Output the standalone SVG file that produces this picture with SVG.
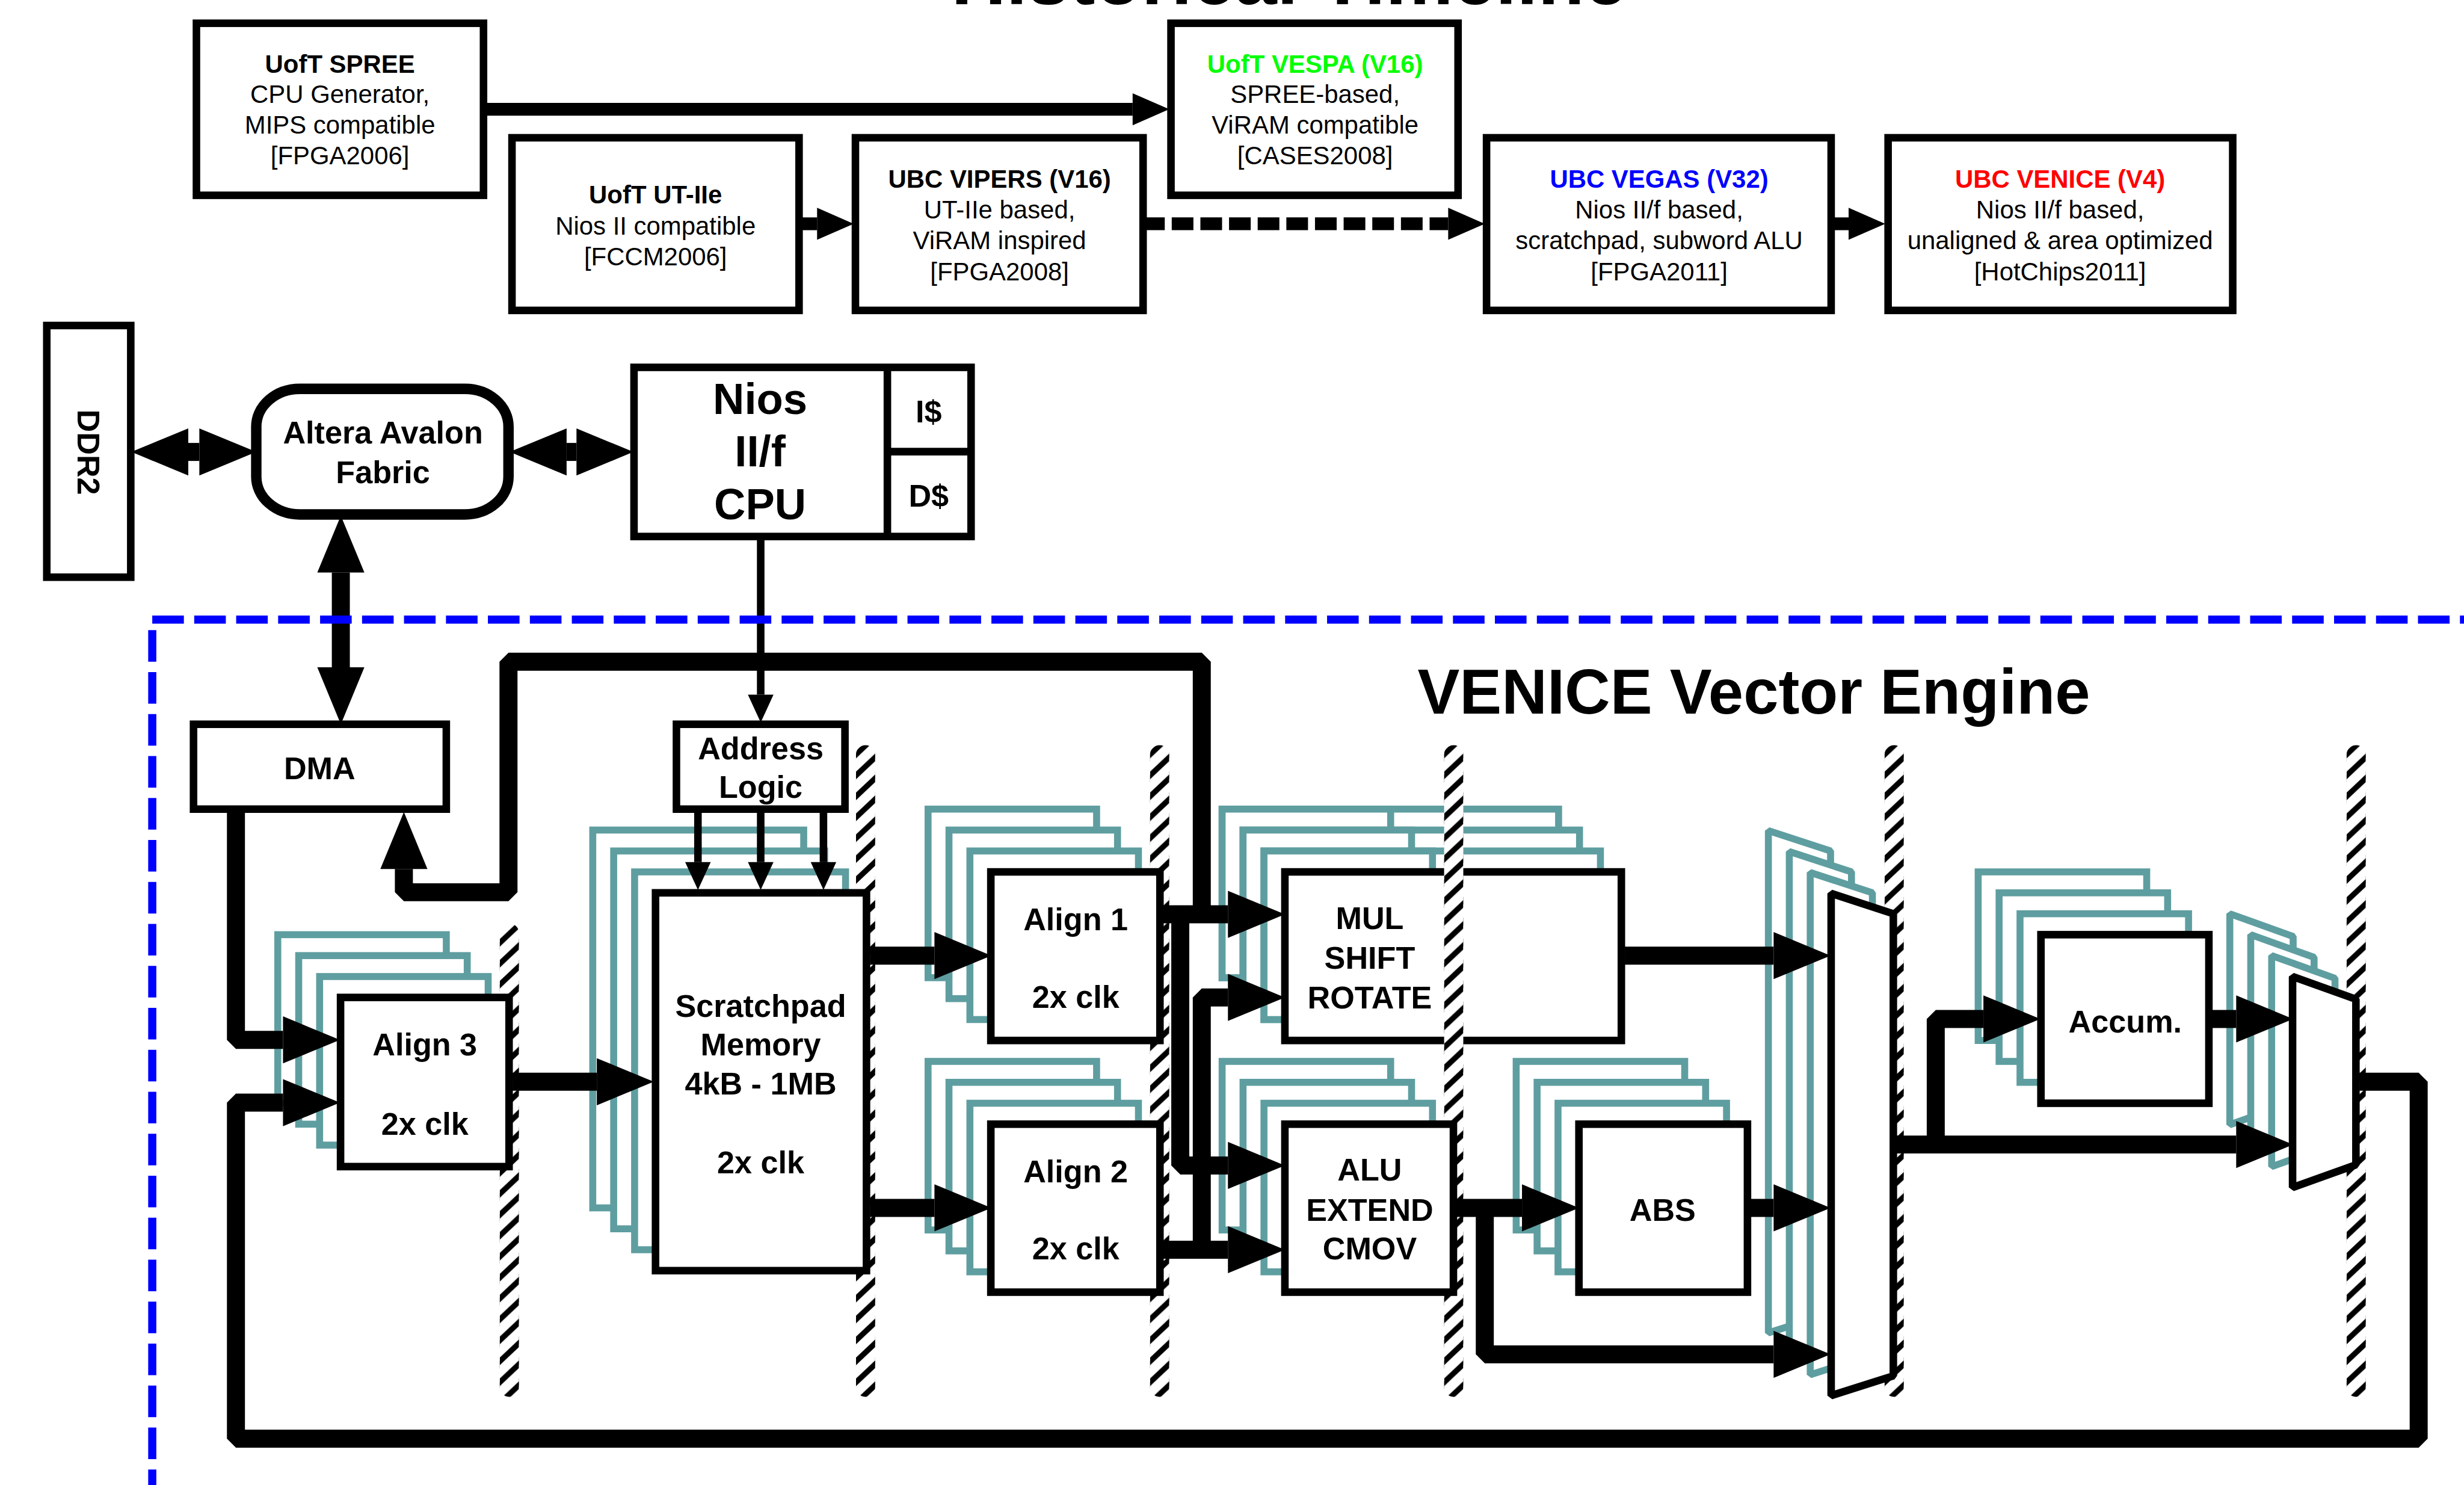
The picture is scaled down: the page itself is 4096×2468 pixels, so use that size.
<svg xmlns="http://www.w3.org/2000/svg" xmlns:xlink="http://www.w3.org/1999/xlink" width="4096" height="2468" viewBox="0 0 4096 2468">
<style>
text{font-family:"Liberation Sans",Arial,Helvetica,sans-serif;text-anchor:middle;fill:#000}
.b{font-weight:bold}
.s43{font-size:43.4px}
.s54{font-size:54px;font-weight:bold}
.s75{font-size:75px;font-weight:bold}
.box{fill:#fff;stroke:#000;stroke-width:13}
.mux{fill:#fff;stroke:#000;stroke-width:13;stroke-linejoin:bevel}
.st{fill:#fff;stroke:#5f9ea0;stroke-width:12}
.stm{fill:#fff;stroke:#5f9ea0;stroke-width:12;stroke-linejoin:bevel}
.w{fill:none;stroke:#000;stroke-width:31;stroke-linejoin:bevel}
.th{fill:none;stroke:#000;stroke-width:22}
.thin{fill:none;stroke:#000;stroke-width:13}
.big{marker-end:url(#hb)}
.top{marker-end:url(#ht)}
.tn{marker-end:url(#hn)}
.dbl{marker-start:url(#hb);marker-end:url(#hb)}
.dash{fill:none;stroke:#00f;stroke-width:14;stroke-dasharray:54.4 17.8}
</style>
<defs>
<marker id="hb" markerUnits="userSpaceOnUse" markerWidth="99" markerHeight="81" refX="0" refY="40.5" orient="auto-start-reverse" overflow="visible"><path d="M0,0L98,40.5L0,81Z"/></marker>
<marker id="ht" markerUnits="userSpaceOnUse" markerWidth="64" markerHeight="56" refX="0" refY="28" orient="auto" overflow="visible"><path d="M0,0.5L63,28L0,55.5Z"/></marker>
<marker id="hn" markerUnits="userSpaceOnUse" markerWidth="48" markerHeight="44" refX="0" refY="22" orient="auto" overflow="visible"><path d="M0,0L48,22L0,44Z"/></marker>
<pattern id="hp" patternUnits="userSpaceOnUse" width="33" height="36"><polygon points="0,9.5 0,22.5 33,-8.5 33,-21.5"/><polygon points="0,45.5 0,58.5 33,27.5 33,14.5"/></pattern>
<g id="bar"><rect width="33" height="1121" rx="16" fill="#fff"/><rect width="33" height="1121" rx="16" fill="url(#hp)"/></g>
<g id="bar1"><rect y="307" width="33" height="814" rx="16" fill="#fff"/><rect y="307" width="33" height="814" rx="16" fill="url(#hp)"/></g>
<g id="stack"><rect class="st" x="-108" y="-108" width="290" height="290"/><rect class="st" x="-72" y="-72" width="290" height="290"/><rect class="st" x="-36" y="-36" width="290" height="290"/></g>
<polygon id="muxB" points="0,0 107,35 107,830 0,864"/>
<polygon id="muxS" points="0,0 109,39 109,324 0,363"/>
</defs>
<g transform="scale(0.96604)">
<rect x="0" y="0" width="4240" height="2555" fill="#fff"/>
<text id="title" class="b" x="2218" y="7" font-size="131">Historical Timeline</text>

<g id="uoft-spree"><rect class="box" x="338" y="40" width="494" height="296"/>
<text class="s43 b" x="585" y="125">UofT SPREE</text><text class="s43" x="585" y="177">CPU Generator,</text><text class="s43" x="585" y="230">MIPS compatible</text><text class="s43" x="585" y="283">[FPGA2006]</text></g>
<g id="uoft-vespa"><rect class="box" x="2015" y="40" width="494" height="296"/>
<text class="s43 b" x="2263" y="125" style="fill:#0f0">UofT VESPA (V16)</text><text class="s43" x="2263" y="177">SPREE-based,</text><text class="s43" x="2263" y="230">ViRAM compatible</text><text class="s43" x="2263" y="283">[CASES2008]</text></g>
<g id="uoft-ut2e"><rect class="box" x="881" y="237" width="494" height="297"/>
<text class="s43 b" x="1128" y="350">UofT UT-IIe</text><text class="s43" x="1128" y="404">Nios II compatible</text><text class="s43" x="1128" y="456">[FCCM2006]</text></g>
<g id="ubc-vipers"><rect class="box" x="1472" y="237" width="495" height="297"/>
<text class="s43 b" x="1720" y="323">UBC VIPERS (V16)</text><text class="s43" x="1720" y="376">UT-IIe based,</text><text class="s43" x="1720" y="429">ViRAM inspired</text><text class="s43" x="1720" y="482">[FPGA2008]</text></g>
<g id="ubc-vegas"><rect class="box" x="2558" y="237" width="593" height="297"/>
<text class="s43 b" x="2855" y="323" style="fill:#00f">UBC VEGAS (V32)</text><text class="s43" x="2855" y="376">Nios II/f based,</text><text class="s43" x="2855" y="429">scratchpad, subword ALU</text><text class="s43" x="2855" y="482">[FPGA2011]</text></g>
<g id="ubc-venice"><rect class="box" x="3249" y="237" width="593" height="297"/>
<text class="s43 b" x="3545" y="323" style="fill:#f00">UBC VENICE (V4)</text><text class="s43" x="3545" y="376">Nios II/f based,</text><text class="s43" x="3545" y="429">unaligned &amp; area optimized</text><text class="s43" x="3545" y="482">[HotChips2011]</text></g>

<g id="ddr2"><rect class="box" x="80.5" y="560" width="144.5" height="433"/>
<text class="s54" transform="translate(134,778) rotate(90)">DDR2</text></g>
<g id="avalon"><rect class="box" x="441" y="669" width="434" height="216" rx="75" ry="65" style="stroke-width:18"/>
<text class="s54" x="659" y="763">Altera Avalon</text><text class="s54" x="659" y="831">Fabric</text></g>
<g id="nios"><rect class="box" x="1091" y="632" width="580" height="291"/>
<path class="thin" d="M1527,632V923M1527,777H1671"/>
<text class="s75" x="1308" y="712">Nios</text><text class="s75" x="1308" y="802">II/f</text><text class="s75" x="1308" y="893">CPU</text>
<text class="s54" x="1598" y="727">I$</text><text class="s54" x="1598" y="872">D$</text></g>

<text id="vector-title" class="b" x="3018" y="1228" font-size="108.5">VENICE Vector Engine</text>

<g id="stacks">
<use href="#stack" x="1705" y="1500"/>
<use href="#stack" x="1705" y="1934"/>
<use href="#stack" x="2211" y="1934"/>
<use href="#stack" x="2717" y="1934"/>
<use href="#stack" x="586" y="1716"/>
<use href="#stack" x="3512" y="1608"/>
<rect class="st" x="1020" y="1428" width="363" height="650"/><rect class="st" x="1056" y="1464" width="363" height="650"/><rect class="st" x="1092" y="1500" width="363" height="650"/>
<rect class="st" x="2103" y="1392" width="579" height="290"/><rect class="st" x="2103" y="1392" width="290" height="290"/>
<rect class="st" x="2139" y="1428" width="579" height="290"/><rect class="st" x="2139" y="1428" width="290" height="290"/>
<rect class="st" x="2175" y="1464" width="579" height="290"/><rect class="st" x="2175" y="1464" width="290" height="290"/>
<use href="#muxB" class="stm" x="3043" y="1429"/><use href="#muxB" class="stm" x="3079" y="1465"/><use href="#muxB" class="stm" x="3115" y="1501"/>
<use href="#muxS" class="stm" x="3837" y="1572"/><use href="#muxS" class="stm" x="3873" y="1608"/><use href="#muxS" class="stm" x="3909" y="1644"/>
</g>

<g id="mul"><rect class="box" x="2211" y="1500" width="579" height="290"/>
<text class="s54" x="2357" y="1598">MUL</text><text class="s54" x="2357" y="1667">SHIFT</text><text class="s54" x="2357" y="1735">ROTATE</text></g>

<g id="pipeline-bars">
<use href="#bar1" x="860" y="1282"/>
<use href="#bar" x="1473" y="1282"/>
<use href="#bar" x="1979" y="1282"/>
<use href="#bar" x="2485" y="1282"/>
<use href="#bar" x="3243" y="1282"/>
<use href="#bar" x="4038" y="1282"/>
</g>

<g id="dma"><rect class="box" x="333" y="1246" width="435" height="146"/><text class="s54" x="550" y="1341">DMA</text></g>
<g id="address"><rect class="box" x="1164" y="1246" width="290" height="146"/><text class="s54" x="1309" y="1306">Address</text><text class="s54" x="1309" y="1373">Logic</text></g>
<g id="align3"><rect class="box" x="586" y="1716" width="290" height="291"/><text class="s54" x="731" y="1816">Align 3</text><text class="s54" x="731" y="1952">2x clk</text></g>
<g id="scratchpad"><rect class="box" x="1128" y="1536" width="363" height="650"/><text class="s54" x="1309" y="1749">Scratchpad</text><text class="s54" x="1309" y="1816">Memory</text><text class="s54" x="1309" y="1883">4kB - 1MB</text><text class="s54" x="1309" y="2019">2x clk</text></g>
<g id="align1"><rect class="box" x="1705" y="1500" width="291" height="290"/><text class="s54" x="1851" y="1600">Align 1</text><text class="s54" x="1851" y="1734">2x clk</text></g>
<g id="align2"><rect class="box" x="1705" y="1934" width="291" height="289"/><text class="s54" x="1851" y="2034">Align 2</text><text class="s54" x="1851" y="2167">2x clk</text></g>
<g id="alu"><rect class="box" x="2211" y="1934" width="290" height="289"/><text class="s54" x="2357" y="2031">ALU</text><text class="s54" x="2357" y="2100">EXTEND</text><text class="s54" x="2357" y="2167">CMOV</text></g>
<g id="abs"><rect class="box" x="2717" y="1934" width="290" height="289"/><text class="s54" x="2861" y="2100">ABS</text></g>
<g id="accum"><rect class="box" x="3512" y="1608" width="289" height="290"/><text class="s54" x="3657" y="1776">Accum.</text></g>
<g id="mux-large"><use href="#muxB" class="mux" x="3151" y="1537"/></g>
<g id="mux-small"><use href="#muxS" class="mux" x="3945" y="1680"/></g>

<g id="connectors">
<path class="th top" d="M832,188H1949"/>
<path class="th top" d="M1375,385H1406"/>
<path class="th top" d="M1967,385H2492" stroke-dasharray="37.3 12"/>
<path class="th top" d="M3151,385H3181"/>
<path class="w dbl" d="M324,777.5H343"/>
<path class="w dbl" d="M975,777.5H992"/>
<path class="w dbl" d="M586.5,985V1148"/>
<path class="thin tn" d="M1309,929V1195"/>
<path class="thin tn" d="M1201,1392V1483"/>
<path class="thin tn" d="M1309,1392V1483"/>
<path class="thin tn" d="M1417,1392V1483"/>
<path class="w big" d="M2068,1573V1138.5H875V1535H695V1495"/>
<path class="w big" d="M406,1392V1789H487"/>
<path class="w big" d="M4060,1861H4162V2475H406V1897H487"/>
<path class="w big" d="M882,1861H1027"/>
<path class="w big" d="M1497,1644H1608"/>
<path class="w big" d="M1497,2078H1608"/>
<path class="w big" d="M2000,1573H2113"/>
<path class="w big" d="M2031,1573V2005H2113"/>
<path class="w big" d="M2068,2150V1716H2113"/>
<path class="w big" d="M2000,2150H2113"/>
<path class="w big" d="M2796,1644H3052"/>
<path class="w big" d="M3007,2078H3052"/>
<path class="w big" d="M2507,2078H2619"/>
<path class="w big" d="M2555,2078V2330H3052"/>
<path class="w big" d="M3258,1969H3848"/>
<path class="w big" d="M3331,1969V1753H3413"/>
<path class="w big" d="M3801,1753H3848"/>
</g>

<g id="vector-engine-boundary">
<path class="dash" d="M262,1066H4240"/>
<path class="dash" d="M262,1084V2555"/>
</g>
</g>
</svg>
